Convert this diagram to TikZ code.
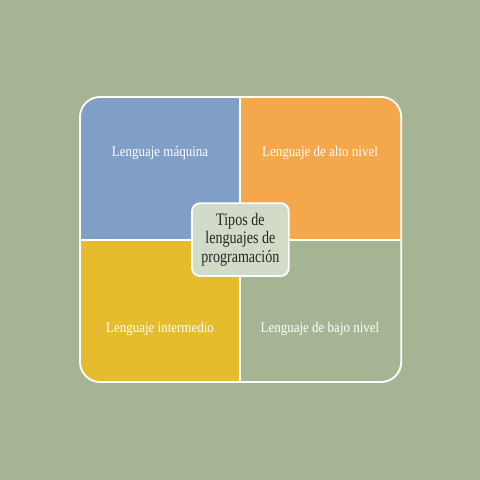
\documentclass[tikz,border=0pt]{standalone}
\usepackage{fontspec}
\setmainfont[FakeStretch=0.88]{Liberation Serif}
\newfontfamily\tiposfont[FakeStretch=0.8]{Liberation Serif}
\usetikzlibrary{positioning}

\definecolor{fondo}{RGB}{165,181,147}
\definecolor{azul}{RGB}{127,159,198}
\definecolor{naranja}{RGB}{244,167,75}
\definecolor{amarillo}{RGB}{229,188,45}
\definecolor{centro}{RGB}{210,219,200}

\tikzset{
    etiqueta/.style={text=white,font=\fontsize{10.5}{12}\selectfont},
    borde/.style={white,line width=1.3pt},
    tipos/.style={draw=white,line width=1.3pt,fill=centro,rounded corners=0.2cm,
        minimum width=2.42cm,minimum height=1.82cm,align=center,inner sep=2pt,
        font=\tiposfont\fontsize{12.5}{13}\selectfont,text=black!85}
}

\begin{document}
\begin{tikzpicture}
    % === FONDO ===
    \fill[fondo] (0,0) rectangle (12,12);
    \useasboundingbox (0,0) rectangle (12,12);

    % === CUADRANTES ===
    \begin{scope}
        \clip[rounded corners=0.5cm] (2,2.45) rectangle (10.03,9.575);
        \fill[azul] (2,6) rectangle (6,9.575);
        \fill[naranja] (6,6) rectangle (10.03,9.575);
        \fill[amarillo] (2,2.45) rectangle (6,6);
        \fill[fondo] (6,2.45) rectangle (10.03,6);
    \end{scope}
    \draw[borde] (6,2.45) -- (6,9.575);
    \draw[borde] (2,6) -- (10.03,6);
    \draw[borde,rounded corners=0.5cm] (2,2.45) rectangle (10.03,9.575);

    % Etiquetas
    \node[etiqueta] (maquina) at (4,8.17) {Lenguaje máquina};
    \node[etiqueta] (alto) at (8,8.17) {Lenguaje de alto nivel};
    \node[etiqueta] (intermedio) at (4,3.77) {Lenguaje intermedio};
    \node[etiqueta] (bajo) at (8,3.77) {Lenguaje de bajo nivel};

    % Centro
    \node[tipos] (tipos) at (6.01,6.01) {Tipos de\\lenguajes de\\programación};
\end{tikzpicture}
\end{document}
